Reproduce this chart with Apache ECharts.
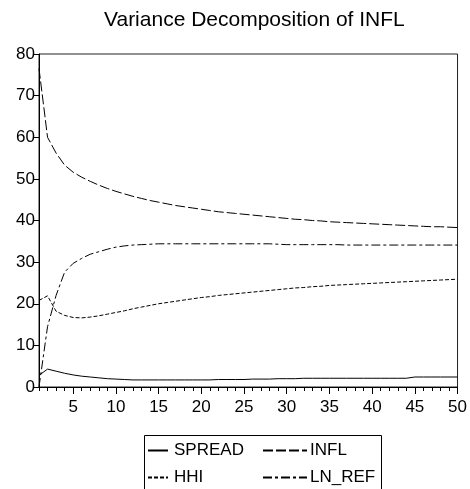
<!DOCTYPE html>
<html>
<head>
<meta charset="utf-8">
<script src="https://cdn.jsdelivr.net/npm/echarts@6/dist/echarts.min.js"></script>
<style>
  html, body { margin: 0; padding: 0; background: #fff; }
  #chart { width: 470px; height: 489px; }
</style>
</head>
<body>
<div id="chart"></div>
<script>
// forecast horizon
const periods = [1, 2, 3, 4, 5, 6, 7, 8, 9, 10, 11, 12, 13, 14, 15, 16, 17, 18, 19, 20,
  21, 22, 23, 24, 25, 26, 27, 28, 29, 30, 31, 32, 33, 34, 35, 36, 37, 38, 39, 40,
  41, 42, 43, 44, 45, 46, 47, 48, 49, 50];

const spread = [2.8, 4.3, 3.8, 3.3, 2.9, 2.6, 2.4, 2.2, 2.0, 1.9, 1.8, 1.7, 1.7, 1.7, 1.7, 1.7, 1.7, 1.7, 1.7, 1.7,
  1.7, 1.8, 1.8, 1.8, 1.8, 1.9, 1.9, 1.9, 2.0, 2.0, 2.0, 2.1, 2.1, 2.1, 2.1, 2.1, 2.1, 2.1, 2.1, 2.1,
  2.1, 2.1, 2.1, 2.1, 2.4, 2.4, 2.4, 2.4, 2.4, 2.4];

const infl = [76.5, 60.0, 56.2, 53.3, 51.6, 50.4, 49.4, 48.5, 47.7, 47.0, 46.4, 45.8, 45.3, 44.8, 44.4, 44.0, 43.6, 43.3, 43.0, 42.7,
  42.4, 42.1, 41.9, 41.7, 41.5, 41.3, 41.1, 40.9, 40.7, 40.5, 40.3, 40.2, 40.0, 39.9, 39.7, 39.6, 39.5, 39.4, 39.3, 39.2,
  39.1, 39.0, 38.9, 38.8, 38.7, 38.6, 38.5, 38.5, 38.4, 38.3];

const hhi = [20.8, 21.9, 18.2, 17.2, 16.7, 16.6, 16.8, 17.1, 17.5, 17.9, 18.3, 18.8, 19.2, 19.6, 20.0, 20.3, 20.6, 20.9, 21.2, 21.5,
  21.7, 22.0, 22.2, 22.4, 22.6, 22.8, 23.0, 23.2, 23.4, 23.6, 23.8, 23.9, 24.1, 24.2, 24.4, 24.5, 24.6, 24.7, 24.8, 24.9,
  25.0, 25.1, 25.2, 25.3, 25.4, 25.5, 25.6, 25.7, 25.8, 25.9];

const lnRef = [0.0, 14.5, 22.0, 27.6, 29.7, 30.9, 31.9, 32.5, 33.1, 33.6, 33.9, 34.1, 34.2, 34.3, 34.4, 34.4, 34.4, 34.4, 34.4, 34.4,
  34.4, 34.4, 34.4, 34.4, 34.4, 34.4, 34.4, 34.4, 34.3, 34.2, 34.2, 34.2, 34.2, 34.2, 34.2, 34.2, 34.1, 34.1, 34.1, 34.1,
  34.1, 34.1, 34.1, 34.1, 34.1, 34.1, 34.1, 34.1, 34.1, 34.1];

const xLabels = [5, 10, 15, 20, 25, 30, 35, 40, 45, 50];
const yTicks = [0, 10, 20, 30, 40, 50, 60, 70, 80];

const font = 'Liberation Sans, Arial, Helvetica, sans-serif';
const pairs = vals => periods.map((p, i) => [p, vals[i]]);

const mkSeries = (name, vals, dash) => ({
  name,
  type: 'line',
  data: pairs(vals),
  symbol: 'none',
  animation: false,
  lineStyle: { color: '#000', width: 1, type: dash },
  itemStyle: { color: '#000' }
});

const chart = echarts.init(document.getElementById('chart'), null, { renderer: 'canvas' });

chart.setOption({
  backgroundColor: '#fff',
  title: {
    text: 'Variance Decomposition of INFL',
    left: 99,
    top: 5,
    textStyle: { fontFamily: font, fontSize: 21, fontWeight: 'normal', color: '#000' }
  },
  grid: {
    left: 39, right: 11, top: 54, bottom: 102,
    show: true, borderColor: '#222', borderWidth: 1, backgroundColor: 'transparent'
  },
  legend: [
    {
      data: ['SPREAD', 'HHI'],
      orient: 'vertical',
      left: 147, top: 442,
      padding: 0,
      itemWidth: 20, itemHeight: 14, itemGap: 10,
      itemStyle: { opacity: 0 },
      textStyle: { fontFamily: font, fontSize: 17, color: '#000', padding: [0, 0, 0, 1] }
    },
    {
      data: ['INFL', 'LN_REF'],
      orient: 'vertical',
      left: 262, top: 442,
      padding: 0,
      itemWidth: 44, itemHeight: 14, itemGap: 10,
      itemStyle: { opacity: 0 },
      textStyle: { fontFamily: font, fontSize: 17, color: '#000', padding: [0, 0, 0, -2] }
    }
  ],
  graphic: [{
    type: 'rect',
    shape: { x: 144.5, y: 435.5, width: 237, height: 80 },
    style: { fill: 'none', stroke: '#000', lineWidth: 1 },
    silent: true
  }],
  xAxis: [
    {
      type: 'value', min: 1, max: 50, interval: 1,
      axisLine: { show: true, lineStyle: { color: '#000', width: 1 } },
      axisTick: { show: true, customValues: periods, length: 4, inside: false, lineStyle: { color: '#000' } },
      axisLabel: { customValues: xLabels, margin: 12, fontFamily: font, fontSize: 17, color: '#000' },
      splitLine: { show: false }
    },
    {
      type: 'value', min: 1, max: 50, position: 'bottom',
      axisLine: { show: false },
      axisTick: { show: true, customValues: xLabels, length: 7, lineStyle: { color: '#000' } },
      axisLabel: { show: false },
      splitLine: { show: false }
    }
  ],
  yAxis: {
    type: 'value', min: 0, max: 80, interval: 10,
    axisLine: { show: true, lineStyle: { color: '#000', width: 1 } },
    axisTick: { show: true, customValues: yTicks, length: 6, lineStyle: { color: '#000' } },
    axisLabel: { customValues: yTicks, margin: 4, fontFamily: font, fontSize: 17, color: '#000' },
    splitLine: { show: false }
  },
  series: [
    mkSeries('SPREAD', spread, 'solid'),
    mkSeries('INFL', infl, [10, 3]),
    mkSeries('HHI', hhi, [4, 2]),
    mkSeries('LN_REF', lnRef, [9, 3, 3, 3])
  ]
});
</script>
</body>
</html>
